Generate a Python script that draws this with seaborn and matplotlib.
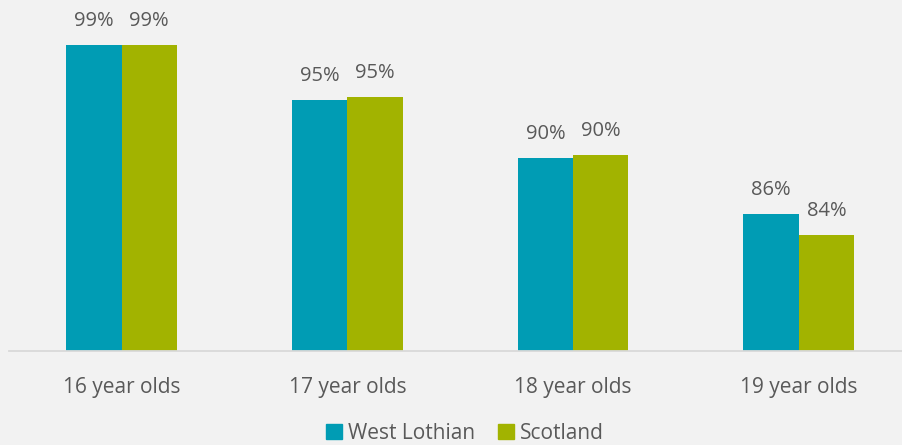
import matplotlib
matplotlib.use("Agg")
import matplotlib.pyplot as plt
import seaborn as sns
import pandas as pd

categories = ["16 year olds", "17 year olds", "18 year olds", "19 year olds"]
series_names = ["West Lothian", "Scotland"]
west_lothian = [99.0, 94.7, 90.1, 85.7]
scotland = [99.0, 94.95, 90.4, 84.1]
colors = ["#009CB4", "#A2B300"]

df = pd.DataFrame({
    "age": categories * 2,
    "area": [series_names[0]] * 4 + [series_names[1]] * 4,
    "value": west_lothian + scotland,
})

sns.set_theme(style="white")
plt.rcParams["font.family"] = ["Open Sans", "DejaVu Sans"]

W, H = 902, 445
fig = plt.figure(figsize=(W / 100, H / 100), dpi=100, facecolor="#F2F2F2")
ax = fig.add_axes([8.8 / W, (H - 350.7) / H, 902.8 / W, (350.7 - 32.2) / H])
ax.set_facecolor("#F2F2F2")

sns.barplot(data=df, x="age", y="value", hue="area", order=categories,
            hue_order=series_names, palette=colors, width=0.49, gap=0,
            saturation=1, ax=ax, legend=True, edgecolor="none", linewidth=0)

ax.set_ylim(75, 100)
ax.set_xlim(-0.5, 3.5)
for cont in ax.containers:
    ax.bar_label(cont, labels=[f"{v:.0f}%" for v in cont.datavalues],
                 padding=10, fontsize=14.5, color="#595959")

ax.set_xlabel("")
ax.set_ylabel("")
ax.set_yticks([])
ax.tick_params(axis="x", length=0, pad=19, labelsize=15, labelcolor="#595959")
for s in ["top", "right", "left"]:
    ax.spines[s].set_visible(False)
ax.spines["bottom"].set_color("#D9D9D9")
ax.spines["bottom"].set_linewidth(1.3)

ax.get_legend().remove()
handles = [plt.Rectangle((0, 0), 1, 1, color=c) for c in colors]
fig.legend(handles, series_names, loc="center", bbox_to_anchor=(465 / W, 1 - 433.5 / H),
           ncol=2, frameon=False, fontsize=15, labelcolor="#595959",
           handlelength=0.75, handleheight=0.75, handletextpad=0.3,
           columnspacing=1.1, borderpad=0)

fig.savefig("out.png", dpi=100, facecolor=fig.get_facecolor())
